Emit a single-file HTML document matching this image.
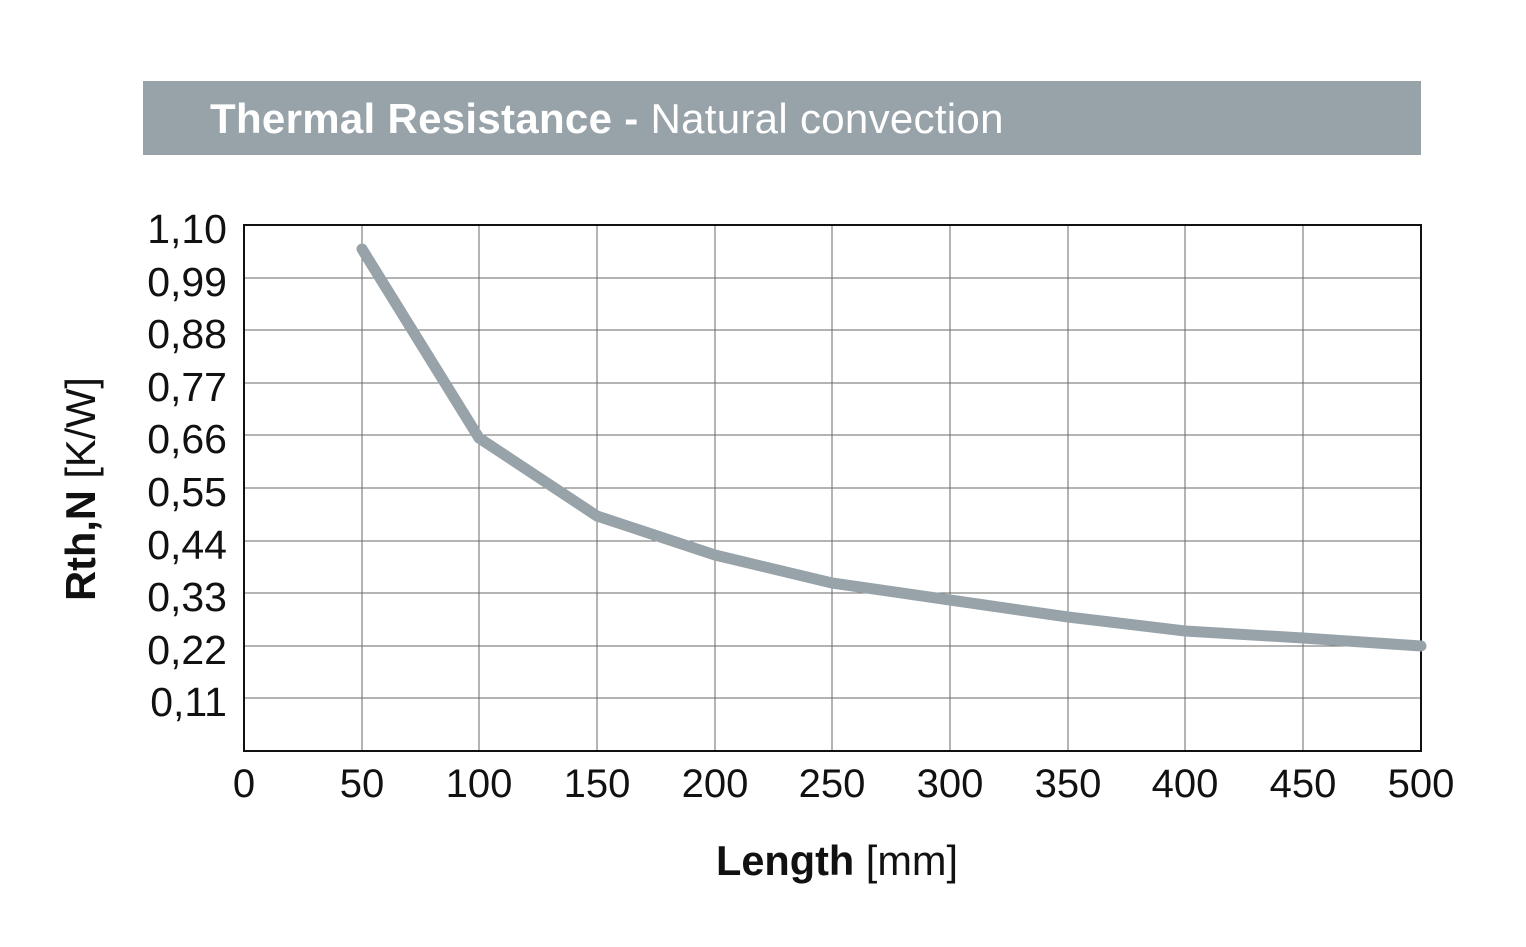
<!DOCTYPE html>
<html><head><style>body{margin:0;background:#fff}svg{display:block}</style></head><body>
<svg width="1526" height="947" viewBox="0 0 1526 947" xmlns="http://www.w3.org/2000/svg" font-family="Liberation Sans, Arial, sans-serif">
<rect x="143" y="81" width="1278" height="74" fill="#97a2a9"/>
<text x="210" y="133" font-size="42" fill="#fff" letter-spacing="0.3"><tspan font-weight="bold">Thermal Resistance - </tspan>Natural convection</text>
<g stroke="#6a6a6a" stroke-width="1">
<line x1="362" y1="225" x2="362" y2="751"/><line x1="479" y1="225" x2="479" y2="751"/><line x1="597" y1="225" x2="597" y2="751"/><line x1="715" y1="225" x2="715" y2="751"/><line x1="832" y1="225" x2="832" y2="751"/><line x1="950" y1="225" x2="950" y2="751"/><line x1="1068" y1="225" x2="1068" y2="751"/><line x1="1185" y1="225" x2="1185" y2="751"/><line x1="1303" y1="225" x2="1303" y2="751"/>
<line x1="244" y1="278" x2="1421" y2="278"/><line x1="244" y1="330" x2="1421" y2="330"/><line x1="244" y1="383" x2="1421" y2="383"/><line x1="244" y1="435" x2="1421" y2="435"/><line x1="244" y1="488" x2="1421" y2="488"/><line x1="244" y1="541" x2="1421" y2="541"/><line x1="244" y1="593" x2="1421" y2="593"/><line x1="244" y1="646" x2="1421" y2="646"/><line x1="244" y1="698" x2="1421" y2="698"/>
</g>
<rect x="244" y="225" width="1177" height="526" fill="none" stroke="#111" stroke-width="2"/>
<polyline points="362,249 479,438 597,516 715,555 832,583 950,600 1068,617 1185,631 1303,638 1421,646" fill="none" stroke="#97a2a9" stroke-width="11" stroke-linecap="round" stroke-linejoin="round"/>
<g font-size="41" fill="#111" text-anchor="end">
<text x="227" y="243">1,10</text><text x="227" y="296">0,99</text><text x="227" y="348">0,88</text><text x="227" y="401">0,77</text><text x="227" y="453">0,66</text><text x="227" y="506">0,55</text><text x="227" y="559">0,44</text><text x="227" y="611">0,33</text><text x="227" y="664">0,22</text><text x="227" y="716">0,11</text>
</g>
<g font-size="40" fill="#111" text-anchor="middle">
<text x="244" y="797">0</text><text x="362" y="797">50</text><text x="479" y="797">100</text><text x="597" y="797">150</text><text x="715" y="797">200</text><text x="832" y="797">250</text><text x="950" y="797">300</text><text x="1068" y="797">350</text><text x="1185" y="797">400</text><text x="1303" y="797">450</text><text x="1421" y="797">500</text>
</g>
<text x="837" y="875" font-size="41.5" fill="#111" text-anchor="middle"><tspan font-weight="bold">Length</tspan> [mm]</text>
<text transform="translate(95,489) rotate(-90)" font-size="41.5" fill="#111" text-anchor="middle"><tspan font-weight="bold">Rth,N</tspan> [K/W]</text>
</svg>
</body></html>
